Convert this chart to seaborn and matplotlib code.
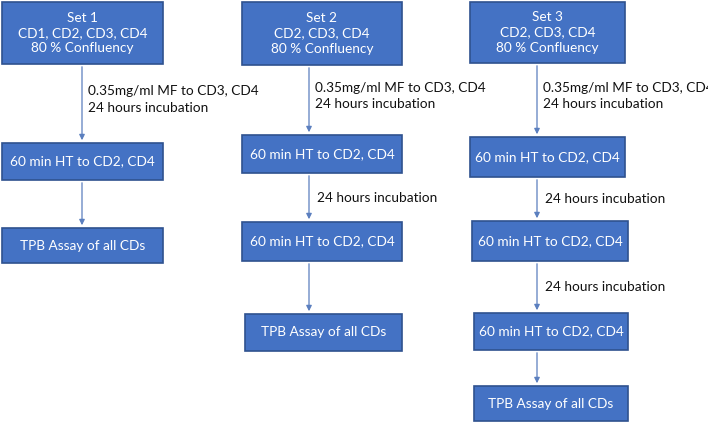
import matplotlib
matplotlib.use("Agg")
import matplotlib.pyplot as plt
from matplotlib.patches import Rectangle
import seaborn as sns

set_titles = ["Set 1\nCD1, CD2, CD3, CD4\n80 % Confluency",
              "Set 2\nCD2, CD3, CD4\n80 % Confluency",
              "Set 3\nCD2, CD3, CD4\n80 % Confluency"]
ht_label = "60 min HT to CD2, CD4"
assay_label = "TPB Assay of all CDs"
mf_label = "0.35mg/ml MF to CD3, CD4\n24 hours incubation"
inc_label = "24 hours incubation"

# layout: (x0, x1, y0, y1) in pixels
layout = [
    [(2, 163, 2, 64), (2, 163, 143, 180), (2, 163, 228, 263)],
    [(242, 402, 2, 65), (242, 402, 135, 173), (242, 402, 222, 261), (245, 402, 314, 351)],
    [(470, 625, 2, 63), (470, 625, 137, 177), (472, 628, 221, 261), (474, 628, 313, 350), (474, 628, 386, 421)],
]
arrow_x = [82, 309, 537]

sns.set_theme(style="white")
fig = plt.figure(figsize=(7.08, 4.24), dpi=100)
ax = fig.add_axes([0, 0, 1, 1])
ax.set_xlim(0, 708); ax.set_ylim(424, 0); ax.axis("off")
fill, edge = "#4472C4", "#2F528F"
font = "Lato"

for s, boxes in enumerate(layout):
    n = len(boxes)
    labels = [set_titles[s]] + [ht_label] * (n - 2) + [assay_label]
    for i, (x0, x1, y0, y1) in enumerate(boxes):
        ax.add_patch(Rectangle((x0, y0), x1 - x0, y1 - y0, facecolor=fill, edgecolor=edge, lw=1.2))
        ax.text((x0 + x1) / 2, (y0 + y1) / 2, labels[i], color="white", ha="center", va="center",
                fontsize=9.8, family=font, linespacing=1.35)
        if i < n - 1:
            ny0 = boxes[i + 1][2]
            ax.annotate("", xy=(arrow_x[s], ny0), xytext=(arrow_x[s], y1),
                        arrowprops=dict(arrowstyle="-|>", color="#5B7FBF", lw=0.9, mutation_scale=8))
            mid = (y1 + ny0) / 2
            if i == 0:
                ax.text(arrow_x[s] + 6, mid - 4, mf_label, ha="left", va="center", fontsize=9.8,
                        family=font, color="#111111", linespacing=1.5)
            elif i < n - 2:
                ax.text(arrow_x[s] + 8, mid, inc_label, ha="left", va="center", fontsize=9.8,
                        family=font, color="#111111")

fig.savefig("out.png", dpi=100)
